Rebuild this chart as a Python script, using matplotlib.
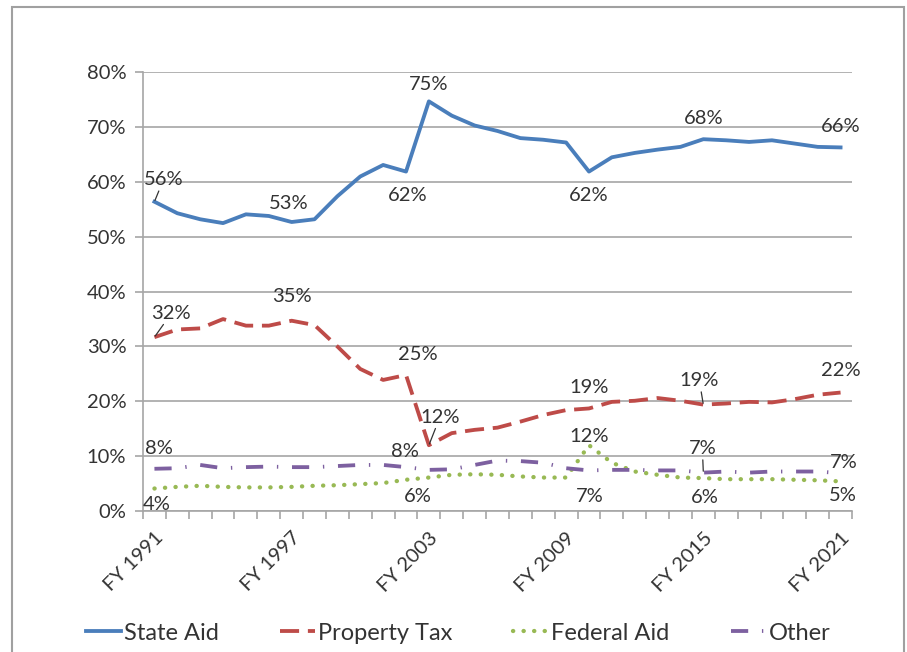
import matplotlib
matplotlib.use("Agg")
import matplotlib.pyplot as plt
from matplotlib.patches import Rectangle

years = [f"FY {y}" for y in range(1991, 2022)]
tick_years = ["FY 1991", "FY 1997", "FY 2003", "FY 2009", "FY 2015", "FY 2021"]

state_aid = [56.4, 54.3, 53.2, 52.5, 54.1, 53.8, 52.7, 53.2, 57.4, 61.0, 63.1, 61.9,
             74.7, 72.1, 70.3, 69.3, 68.0, 67.7, 67.2, 61.9, 64.5, 65.3, 65.9, 66.4,
             67.8, 67.6, 67.3, 67.6, 67.0, 66.4, 66.3]
property_tax = [31.7, 33.1, 33.3, 35.0, 33.8, 33.8, 34.7, 33.9, 30.0, 25.9, 23.9, 24.8,
                12.0, 14.2, 14.8, 15.2, 16.3, 17.5, 18.4, 18.7, 19.9, 20.1, 20.6, 20.1,
                19.4, 19.6, 19.9, 19.8, 20.4, 21.2, 21.6]
federal_aid = [4.1, 4.4, 4.6, 4.4, 4.3, 4.3, 4.4, 4.6, 4.7, 4.9, 5.1, 5.7,
               6.1, 6.6, 6.7, 6.6, 6.3, 6.1, 6.1, 12.0, 8.8, 7.2, 6.6, 6.1,
               6.0, 5.8, 5.8, 5.8, 5.7, 5.6, 5.4]
other = [7.7, 7.8, 8.4, 7.8, 8.0, 8.1, 8.0, 8.0, 8.2, 8.4, 8.4, 8.0,
         7.5, 7.6, 8.4, 9.2, 9.1, 8.8, 7.8, 7.4, 7.5, 7.5, 7.4, 7.4,
         7.0, 7.2, 7.0, 7.2, 7.2, 7.2, 6.9]

names = ["State Aid", "Property Tax", "Federal Aid", "Other"]
colors = ["#4a7ebb", "#be4b48", "#98b954", "#7d60a0"]

# label placements: (index, dx_px, dy_px (image, down positive), leader)
label_pos = {
    "State Aid": [(0, 9, -22, True), (6, -3, -19, False), (11, 2, 24, False), (12, 0, -17, False),
                  (19, 0, 24, False), (24, 0, -21, False), (30, 0, -21, False)],
    "Property Tax": [(0, 17, -24, True), (6, 0, -24, False), (11, 12, -21, False), (12, 11, -28, True),
                     (19, 0, -21, False), (24, -4, -24, True), (30, 0, -22, False)],
    "Other": [(0, 5, -20, False), (11, -1, -16, False), (19, 1, 26, False), (24, -1, -24, True),
              (30, 3, -11, False)],
    "Federal Aid": [(0, 2, 16, False), (11, 12, 17, False), (19, 0, -9, False), (24, 1, 19, False),
                    (30, 2, 14, False)],
}

plt.rcParams['font.family'] = ['Lato', 'DejaVu Sans']
text_color = "#333333"

W, H = 907, 652
fig = plt.figure(figsize=(W / 100, H / 100), dpi=100)
ax = fig.add_axes([143 / W, (H - 511) / H, (852 - 143) / W, (511 - 72.3) / H])

x = list(range(len(years)))
series = {"State Aid": state_aid, "Property Tax": property_tax,
          "Federal Aid": federal_aid, "Other": other}
styles = {
    "State Aid": dict(linestyle="-", lw=2.75),
    "Property Tax": dict(dashes=(5, 2.3), lw=2.75),
    "Federal Aid": dict(dashes=(0.05, 2.4), dash_capstyle="round", lw=3.1),
    "Other": dict(dashes=(4.5, 3.6, 0.35, 3.6), lw=2.75),
}
handles = []
for name, col in zip(names, colors):
    h, = ax.plot(x, series[name], color=col, label=name,
                 solid_joinstyle="round", **styles[name])
    handles.append(h)

for name in names:
    vals = series[name]
    for idx, dx, dy, leader in label_pos[name]:
        kw = {}
        if leader:
            kw["arrowprops"] = dict(arrowstyle="-", color=text_color, lw=0.9,
                                    shrinkA=0, shrinkB=1)
        ax.annotate(f"{round(vals[idx])}%", xy=(idx, vals[idx]),
                    xytext=(dx, -dy), textcoords="offset pixels",
                    ha="center", va="center", fontsize=14.5, color=text_color,
                    annotation_clip=False, **kw)

ax.set_xlim(-0.5, len(years) - 0.5)
ax.set_ylim(0, 80)
ax.set_yticks(range(0, 81, 10))
ax.set_yticklabels([f"{v}%" for v in range(0, 81, 10)], fontsize=14.5, color=text_color)
ax.yaxis.grid(True, color="#a6a6a6", lw=1.2)
ax.set_axisbelow(True)

label_idx = [years.index(t) for t in tick_years]
ax.set_xticks(label_idx)
ax.set_xticklabels(tick_years, rotation=45, ha="right", va="top",
                   rotation_mode="anchor", fontsize=14.5, color=text_color)
ax.tick_params(axis="x", which="major", length=0, pad=13)
ax.set_xticks([i - 0.5 for i in range(len(years) + 1)], minor=True)
ax.tick_params(axis="x", which="minor", length=6, color="#a6a6a6", width=1.2)
ax.tick_params(axis="y", length=6, color="#a6a6a6", width=1.2, pad=6)

for s in ["top", "right"]:
    ax.spines[s].set_visible(False)
for s in ["left", "bottom"]:
    ax.spines[s].set_color("#a6a6a6")
    ax.spines[s].set_linewidth(1.2)

fig.legend(handles=handles, labels=names, loc="center", ncol=4,
           bbox_to_anchor=(458 / W, (H - 633) / H), frameon=False,
           fontsize=17, handlelength=1.5, handletextpad=0.1, columnspacing=2.6,
           labelcolor=text_color)

fig.patches.append(Rectangle((12 / W, -0.05), (904 - 12) / W, (H - 6.7) / H + 0.05,
                             transform=fig.transFigure, fill=False,
                             edgecolor="#a0a0a0", lw=1.5, clip_on=False))

fig.savefig("out.png", dpi=100)
